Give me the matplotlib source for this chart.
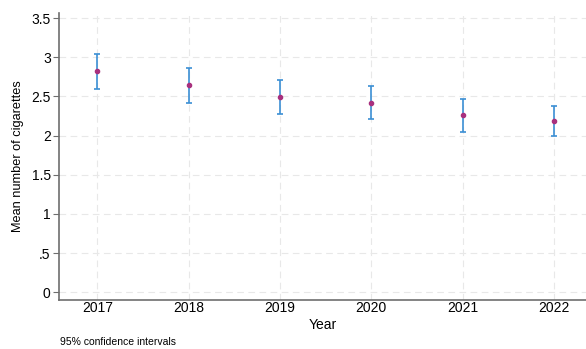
import matplotlib
matplotlib.use("Agg")
import matplotlib.pyplot as plt

plt.rcParams["font.family"] = ["Liberation Sans", "DejaVu Sans"]

years = [2017, 2018, 2019, 2020, 2021, 2022]
mean_cigs = [2.82, 2.64, 2.49, 2.42, 2.26, 2.19]
ci_low = [2.60, 2.41, 2.27, 2.21, 2.05, 1.99]
ci_high = [3.04, 2.865, 2.71, 2.63, 2.47, 2.38]

ERR_COLOR = "#3b8fd4"
MARKER_COLOR = "#a8307e"
AXIS_COLOR = "#6e6e6e"

fig = plt.figure(figsize=(5.86, 3.49), dpi=100)
ax = fig.add_axes([0.1007, 0.1404, 0.8993, 0.8223])

lower = [m - lo for m, lo in zip(mean_cigs, ci_low)]
upper = [hi - m for m, hi in zip(mean_cigs, ci_high)]
ax.errorbar(years, mean_cigs, yerr=[lower, upper], fmt="none",
            ecolor=ERR_COLOR, elinewidth=1.2, capsize=2, capthick=1.2, zorder=3)
ax.plot(years, mean_cigs, "o", color=MARKER_COLOR, markersize=3, zorder=4)

ax.set_xlim(2016.58, 2022.35)
ax.set_ylim(-0.1, 3.565)
ax.set_xticks(years)
ax.set_yticks([0, 0.5, 1, 1.5, 2, 2.5, 3, 3.5])
ax.set_yticklabels(["0", ".5", "1", "1.5", "2", "2.5", "3", "3.5"])

ax.grid(True, color="#e8e8e8", linestyle=(0, (6, 4)), linewidth=0.8)
ax.set_axisbelow(True)
for side in ("top", "right"):
    ax.spines[side].set_visible(False)
for side in ("left", "bottom"):
    ax.spines[side].set_color(AXIS_COLOR)
    ax.spines[side].set_linewidth(1.2)

ax.tick_params(axis="y", length=4, color=AXIS_COLOR, labelsize=10, pad=2)
ax.tick_params(axis="x", length=0, labelsize=10, pad=1)

ax.set_xlabel("Year", fontsize=10, labelpad=2)
ax.set_ylabel("Mean number of cigarettes", fontsize=9.2, labelpad=5)

fig.text(0.1024, 0.006, "95% confidence intervals", fontsize=7.5, ha="left", va="bottom")

fig.savefig("out.png", dpi=100)
